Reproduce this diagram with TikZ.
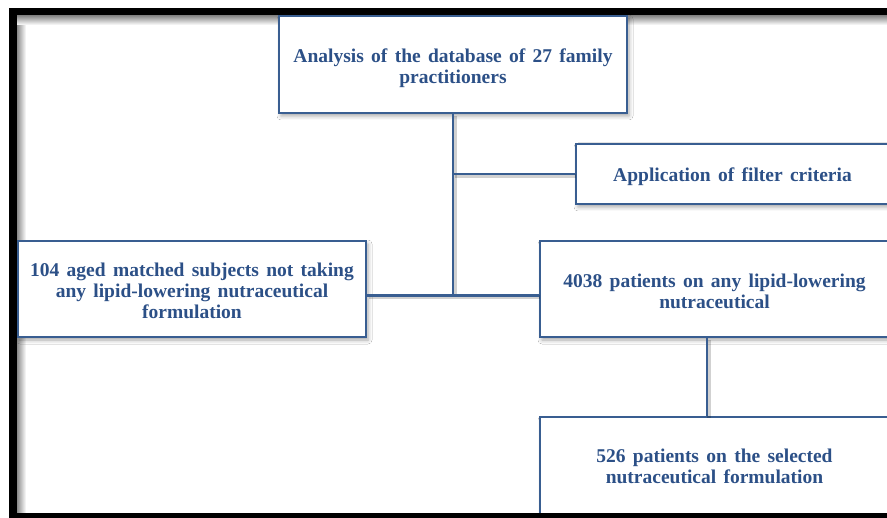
\documentclass[tikz,border=0pt]{standalone}
\usepackage{fontspec}
\setmainfont[WordSpace=1.5]{Liberation Serif}
\usetikzlibrary{shadows.blur,calc}
\definecolor{boxblue}{RGB}{57,94,145}
\definecolor{txtblue}{RGB}{44,80,135}
\newcommand\lowerby[1]{\rule{0pt}{#1}}
\begin{document}
\begin{tikzpicture}[x=1pt,y=-1pt,
  flowbox/.style={draw=boxblue, line width=2.2pt, fill=white, align=center,
    font=\fontsize{19.5}{21}\selectfont\bfseries, text=txtblue, inner sep=0pt,
    blur shadow={shadow xshift=2pt, shadow yshift=-3pt, shadow blur radius=4pt, shadow opacity=35}},
  link/.style={draw=boxblue, line width=2.2pt,
    preaction={draw=black, draw opacity=0.18, line width=4pt, transform canvas={xshift=1.5pt,yshift=-2pt}}}]
\useasboundingbox (0,0) rectangle (887,518);
\clip (0,0) rectangle (887,518);
% frame
\fill[black] (9,8) rectangle (900,530);
\fill[white] (17,16) rectangle (900,513.5);
\shade[left color=black!45, right color=white] (17,16) rectangle (26,513.5);
\shade[top color=black!45, bottom color=white] (17,16) rectangle (900,25);
% nodes
\node[flowbox, minimum width=348, minimum height=97] (top) at (453,64.5)
  {\lowerby{21.5pt}Analysis of the database of 27 family\\practitioners};
\node[flowbox, minimum width=313, minimum height=60] (filter) at (732.5,174)
  {\lowerby{19.5pt}Application of filter criteria};
\node[flowbox, minimum width=348, minimum height=96] (ctrl) at (192,289)
  {\lowerby{18pt}104 aged matched subjects not taking\\any lipid-lowering nutraceutical\\formulation};
\node[flowbox, minimum width=349, minimum height=96] (any) at (714.5,289)
  {\lowerby{18pt}4038 patients on any lipid-lowering\\nutraceutical};
\node[flowbox, minimum width=349, minimum height=97] (sel) at (714.5,465.5)
  {\lowerby{16pt}526 patients on the selected\\nutraceutical formulation};
% connectors
\coordinate (j) at (453,295.5);
\coordinate (v) at (707,400);
\draw[link] (top.south) -- (j);
\draw[link] (top.south |- filter.west) -- (filter.west);
\draw[link] (ctrl.east |- j) -- (any.west |- j);
\draw[link] (any.south -| v) -- (sel.north -| v);
% bottom bar of frame
\fill[black] (9,513.5) rectangle (900,530);
\end{tikzpicture}
\end{document}
